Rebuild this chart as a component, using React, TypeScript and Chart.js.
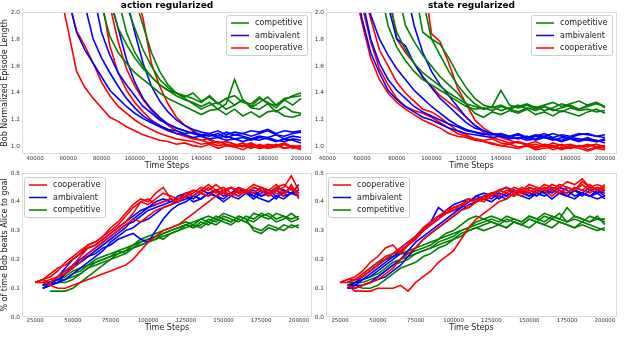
import React, { useEffect, useRef } from 'react';
import { Chart, registerables } from 'chart.js';
Chart.register(...registerables);

const FONT = '"DejaVu Sans", "Liberation Sans", sans-serif';

// ---------- data ----------
const topSteps = [55000, 60000, 65000, 70000, 75000, 80000, 85000, 90000, 95000, 100000,
  105000, 110000, 115000, 120000, 125000, 130000, 135000, 140000, 145000, 150000,
  155000, 160000, 165000, 170000, 175000, 180000, 185000, 190000, 195000, 200000];

const bottomSteps = [25000, 30000, 35000, 40000, 45000, 50000, 55000, 60000, 65000, 70000,
  75000, 80000, 85000, 90000, 95000, 100000, 105000, 110000, 115000, 120000,
  125000, 130000, 135000, 140000, 145000, 150000, 155000, 160000, 165000, 170000,
  175000, 180000, 185000, 190000, 195000, 200000];

const topXTicks = [40000, 60000, 80000, 100000, 120000, 140000, 160000, 180000, 200000];
const topYTicks = [1.0, 1.2, 1.4, 1.6, 1.8, 2.0];
const bottomXTicks = [25000, 50000, 75000, 100000, 125000, 150000, 175000, 200000];
const bottomYTicks = [0.0, 0.1, 0.2, 0.3, 0.4, 0.5];

const N = null;

// Bob normalized episode length, action regularized
const lenActionCompetitive = [
  [N,N,N,N,N,2.05,1.82,1.70,1.62,1.55, 1.50,1.45,1.40,1.36,1.33,1.30,1.27,1.24,1.27,1.28, 1.24,1.28,1.23,1.26,1.22,1.26,1.27,1.23,1.22,1.24],
  [N,N,N,N,N,N,2.10,1.88,1.76,1.66, 1.58,1.52,1.46,1.42,1.40,1.37,1.40,1.34,1.37,1.32, 1.36,1.38,1.33,1.32,1.37,1.32,1.31,1.36,1.37,1.38],
  [N,N,N,N,N,N,N,2.10,1.85,1.70, 1.60,1.52,1.46,1.42,1.38,1.35,1.33,1.30,1.33,1.28, 1.32,1.50,1.35,1.29,1.28,1.32,1.26,1.30,1.26,1.25],
  [N,N,N,N,N,N,N,N,2.05,1.88, 1.72,1.60,1.50,1.44,1.40,1.38,1.36,1.33,1.38,1.32, 1.36,1.31,1.35,1.30,1.36,1.33,1.29,1.35,1.31,1.36],
  [N,N,N,N,N,N,N,N,N,2.10, 1.90,1.70,1.56,1.46,1.40,1.36,1.32,1.28,1.31,1.33, 1.28,1.31,1.35,1.29,1.33,1.37,1.31,1.35,1.38,1.40],
];
const lenActionAmbivalent = [
  [N,2.10,1.85,1.72,1.62,1.52,1.42,1.36,1.30,1.25, 1.21,1.18,1.15,1.12,1.10,1.09,1.07,1.08,1.06,1.07, 1.05,1.06,1.04,1.06,1.05,1.07,1.05,1.04,1.06,1.05],
  [N,N,N,2.05,1.80,1.66,1.55,1.45,1.36,1.29, 1.23,1.19,1.16,1.13,1.12,1.10,1.11,1.09,1.10,1.08, 1.11,1.09,1.10,1.08,1.10,1.12,1.09,1.08,1.10,1.11],
  [N,N,N,N,2.15,1.85,1.68,1.55,1.46,1.38, 1.30,1.25,1.20,1.17,1.14,1.12,1.10,1.09,1.08,1.10, 1.07,1.09,1.08,1.06,1.08,1.07,1.09,1.06,1.08,1.07],
  [N,N,N,N,N,N,2.10,1.88,1.65,1.48, 1.36,1.28,1.22,1.17,1.14,1.12,1.10,1.08,1.09,1.07, 1.08,1.06,1.07,1.05,1.07,1.06,1.04,1.06,1.05,1.03],
  [N,N,N,N,N,N,N,N,2.10,1.85, 1.62,1.45,1.34,1.26,1.20,1.16,1.13,1.11,1.10,1.12, 1.09,1.11,1.10,1.12,1.11,1.13,1.10,1.12,1.11,1.12],
];
const lenActionCooperative = [
  [2.15,1.86,1.56,1.44,1.36,1.29,1.22,1.19,1.15,1.12, 1.09,1.07,1.05,1.04,1.02,1.03,1.01,1.00,1.02,0.99, 1.01,1.00,0.98,1.01,0.99,1.00,1.02,0.99,1.00,0.98],
  [N,2.10,1.86,1.75,1.62,1.48,1.38,1.30,1.25,1.20, 1.16,1.13,1.10,1.08,1.06,1.05,1.04,1.02,1.03,1.01, 1.02,1.00,1.01,0.99,1.02,1.00,1.01,1.03,1.00,1.01],
  [N,N,N,N,N,2.10,1.75,1.55,1.42,1.33, 1.26,1.20,1.16,1.13,1.10,1.08,1.06,1.05,1.03,1.04, 1.02,1.01,1.03,1.00,1.01,0.99,1.00,1.02,1.00,0.99],
  [N,N,N,N,N,N,2.05,1.78,1.58,1.45, 1.35,1.27,1.21,1.16,1.12,1.09,1.07,1.05,1.06,1.03, 1.04,1.02,1.01,1.03,1.00,1.02,1.01,0.99,1.01,1.00],
  [N,N,N,N,N,N,N,N,N,2.20, 1.95,1.62,1.45,1.32,1.22,1.16,1.12,1.08,1.05,1.03, 1.04,1.02,1.00,1.02,0.99,1.01,1.00,1.02,0.99,1.01],
];

// Bob normalized episode length, state regularized
const lenStateCompetitive = [
  [N,N,N,2.20,1.90,1.74,1.64,1.56,1.50,1.46, 1.42,1.38,1.34,1.30,1.28,1.29,1.27,1.30,1.28,1.26, 1.29,1.27,1.30,1.28,1.26,1.29,1.27,1.28,1.26,1.27],
  [N,N,N,N,2.10,1.85,1.72,1.62,1.55,1.50, 1.45,1.40,1.36,1.32,1.30,1.28,1.30,1.42,1.31,1.29, 1.31,1.28,1.30,1.27,1.29,1.31,1.28,1.30,1.32,1.30],
  [N,N,N,N,N,2.20,1.90,1.78,1.68,1.60, 1.52,1.46,1.40,1.32,1.25,1.22,1.26,1.24,1.27,1.25, 1.28,1.24,1.26,1.23,1.27,1.25,1.23,1.26,1.28,1.25],
  [N,N,N,N,N,N,N,2.20,1.85,1.80, 1.76,1.66,1.54,1.44,1.36,1.31,1.29,1.31,1.28,1.30, 1.32,1.29,1.31,1.33,1.30,1.32,1.34,1.31,1.33,1.30],
  [N,N,N,N,N,N,N,N,2.10,1.80, 1.68,1.56,1.46,1.38,1.32,1.28,1.30,1.27,1.29,1.31, 1.28,1.30,1.27,1.29,1.32,1.30,1.28,1.31,1.33,1.29],
];
const lenStateAmbivalent = [
  [2.30,1.95,1.70,1.55,1.42,1.35,1.30,1.26,1.22,1.20, 1.17,1.14,1.12,1.10,1.09,1.08,1.07,1.08,1.06,1.07, 1.05,1.06,1.08,1.06,1.05,1.07,1.06,1.05,1.04,1.06],
  [N,2.10,1.80,1.62,1.50,1.42,1.36,1.30,1.26,1.23, 1.20,1.17,1.15,1.12,1.11,1.10,1.09,1.10,1.08,1.09, 1.07,1.08,1.10,1.07,1.09,1.08,1.10,1.09,1.08,1.09],
  [N,2.30,1.98,1.80,1.68,1.58,1.50,1.42,1.36,1.30, 1.25,1.20,1.16,1.13,1.11,1.09,1.10,1.08,1.07,1.09, 1.06,1.08,1.07,1.05,1.07,1.06,1.04,1.06,1.05,1.03],
  [N,N,N,N,2.05,1.80,1.75,1.62,1.52,1.44, 1.36,1.30,1.24,1.18,1.14,1.12,1.10,1.09,1.08,1.10, 1.07,1.09,1.08,1.10,1.08,1.07,1.09,1.10,1.08,1.07],
  [N,N,N,N,N,N,2.20,1.90,1.70,1.56, 1.46,1.38,1.30,1.22,1.16,1.12,1.10,1.08,1.07,1.06, 1.08,1.05,1.07,1.06,1.04,1.06,1.05,1.07,1.04,1.05],
];
const lenStateCooperative = [
  [2.20,1.92,1.66,1.50,1.40,1.33,1.28,1.24,1.20,1.17, 1.14,1.10,1.08,1.07,1.05,1.04,1.03,1.01,1.02,1.00, 1.01,0.99,1.01,0.98,1.00,0.99,1.01,0.98,1.00,0.99],
  [N,2.05,1.78,1.58,1.46,1.36,1.30,1.27,1.25,1.22, 1.18,1.14,1.10,1.08,1.06,1.05,1.06,1.03,1.02,1.04, 1.01,1.02,1.00,1.03,1.01,1.02,1.00,1.01,1.02,1.00],
  [N,2.20,1.95,1.72,1.60,1.48,1.40,1.34,1.28,1.26, 1.22,1.17,1.12,1.09,1.06,1.04,1.02,1.01,1.00,0.99, 1.01,0.98,0.99,1.00,0.98,1.00,0.99,0.97,0.99,0.98],
  [N,N,N,N,2.20,1.80,1.70,1.62,1.52,1.45, 1.38,1.33,1.28,1.22,1.16,1.11,1.07,1.05,1.03,1.04, 1.02,1.00,1.02,1.01,0.99,1.01,1.00,1.02,1.00,1.01],
  [N,N,N,N,N,N,N,N,2.30,1.84, 1.78,1.62,1.44,1.32,1.20,1.14,1.10,1.07,1.05,1.03, 1.02,1.04,1.01,1.00,1.02,0.99,1.01,1.00,1.02,1.00],
];

// % of time Bob beats Alice to goal, action regularized
const winActionCooperative = [
  [0.12,0.13,0.14,0.16,0.19,0.21,0.23,0.25,0.26,0.28, 0.31,0.33,0.36,0.39,0.41,0.40,0.43,0.45,0.41,0.40, 0.42,0.43,0.45,0.44,0.46,0.44,0.45,0.43,0.44,0.46, 0.45,0.43,0.44,0.45,0.49,0.44],
  [0.12,0.13,0.12,0.14,0.16,0.18,0.21,0.24,0.25,0.27, 0.29,0.31,0.33,0.36,0.40,0.41,0.39,0.40,0.41,0.40, 0.42,0.44,0.43,0.45,0.43,0.44,0.42,0.45,0.44,0.43, 0.45,0.44,0.46,0.43,0.45,0.42],
  [0.12,0.12,0.13,0.14,0.15,0.17,0.19,0.22,0.24,0.26, 0.28,0.30,0.32,0.34,0.33,0.35,0.37,0.38,0.39,0.41, 0.43,0.42,0.44,0.46,0.44,0.43,0.45,0.44,0.43,0.45, 0.44,0.42,0.45,0.46,0.44,0.45],
  [N,0.12,0.11,0.10,0.10,0.11,0.12,0.13,0.14,0.15, 0.16,0.17,0.18,0.20,0.23,0.26,0.28,0.30,0.31,0.32, 0.34,0.36,0.38,0.40,0.42,0.43,0.42,0.44,0.43,0.45, 0.44,0.42,0.44,0.43,0.45,0.43],
  [0.12,0.13,0.15,0.17,0.18,0.20,0.22,0.25,0.26,0.28, 0.30,0.32,0.35,0.38,0.40,0.39,0.41,0.43,0.42,0.41, 0.43,0.44,0.43,0.42,0.44,0.45,0.43,0.42,0.44,0.43, 0.45,0.44,0.43,0.42,0.46,0.41],
];
const winActionAmbivalent = [
  [N,0.10,0.11,0.14,0.17,0.20,0.22,0.24,0.25,0.27, 0.29,0.31,0.33,0.35,0.37,0.38,0.39,0.40,0.41,0.40, 0.42,0.41,0.43,0.42,0.44,0.43,0.42,0.44,0.43,0.41, 0.43,0.44,0.42,0.43,0.45,0.43],
  [N,0.10,0.11,0.12,0.15,0.18,0.20,0.22,0.24,0.26, 0.28,0.30,0.32,0.33,0.35,0.37,0.38,0.39,0.40,0.41, 0.42,0.40,0.41,0.43,0.42,0.41,0.43,0.42,0.44,0.43, 0.42,0.43,0.41,0.44,0.43,0.42],
  [N,0.11,0.12,0.13,0.15,0.17,0.19,0.21,0.23,0.25, 0.27,0.29,0.31,0.34,0.36,0.38,0.40,0.41,0.40,0.42, 0.43,0.42,0.44,0.43,0.42,0.44,0.45,0.43,0.44,0.42, 0.44,0.43,0.45,0.44,0.43,0.46],
  [N,0.10,0.11,0.12,0.13,0.15,0.17,0.19,0.21,0.23, 0.26,0.28,0.30,0.31,0.33,0.34,0.36,0.38,0.39,0.40, 0.41,0.42,0.41,0.43,0.42,0.40,0.42,0.41,0.43,0.42, 0.41,0.40,0.42,0.41,0.43,0.42],
  [N,0.11,0.12,0.14,0.16,0.18,0.19,0.21,0.22,0.24, 0.25,0.27,0.28,0.29,0.27,0.26,0.30,0.34,0.37,0.39, 0.40,0.42,0.41,0.43,0.44,0.42,0.43,0.45,0.43,0.44, 0.42,0.43,0.44,0.42,0.43,0.44],
];
const winActionCompetitive = [
  [N,0.12,0.12,0.13,0.14,0.16,0.17,0.18,0.19,0.20, 0.21,0.22,0.23,0.24,0.25,0.26,0.27,0.28,0.29,0.30, 0.31,0.32,0.31,0.33,0.32,0.34,0.33,0.35,0.34,0.33, 0.35,0.34,0.36,0.35,0.34,0.35],
  [N,0.11,0.12,0.12,0.13,0.15,0.16,0.18,0.20,0.21, 0.22,0.23,0.22,0.24,0.26,0.27,0.28,0.27,0.29,0.30, 0.32,0.31,0.32,0.34,0.33,0.35,0.34,0.33,0.35,0.34, 0.36,0.35,0.33,0.34,0.36,0.34],
  [N,N,0.09,0.09,0.09,0.10,0.12,0.14,0.16,0.18, 0.20,0.21,0.22,0.24,0.25,0.26,0.27,0.29,0.30,0.31, 0.32,0.31,0.33,0.32,0.34,0.33,0.32,0.34,0.33,0.31, 0.30,0.32,0.31,0.30,0.32,0.31],
  [N,0.11,0.11,0.12,0.12,0.13,0.15,0.17,0.18,0.19, 0.20,0.22,0.23,0.25,0.27,0.28,0.29,0.30,0.31,0.32, 0.33,0.32,0.34,0.35,0.34,0.36,0.35,0.34,0.33,0.36, 0.35,0.36,0.34,0.35,0.33,0.34],
  [N,0.12,0.12,0.13,0.13,0.14,0.15,0.17,0.19,0.20, 0.21,0.23,0.24,0.25,0.26,0.27,0.28,0.29,0.30,0.31, 0.32,0.33,0.34,0.33,0.35,0.34,0.33,0.35,0.34,0.30, 0.29,0.31,0.30,0.32,0.31,0.32],
];

// % of time Bob beats Alice to goal, state regularized
const winStateCooperative = [
  [0.12,0.13,0.14,0.16,0.19,0.21,0.24,0.25,0.22,0.25, 0.28,0.31,0.33,0.35,0.37,0.38,0.39,0.41,0.40,0.42, 0.43,0.44,0.43,0.45,0.44,0.46,0.45,0.44,0.46,0.45, 0.47,0.46,0.48,0.45,0.46,0.45],
  [0.12,0.13,0.13,0.15,0.17,0.19,0.21,0.22,0.24,0.26, 0.28,0.30,0.32,0.34,0.36,0.38,0.39,0.40,0.41,0.40, 0.42,0.44,0.45,0.44,0.43,0.45,0.44,0.46,0.45,0.44, 0.43,0.45,0.44,0.46,0.44,0.45],
  [N,0.11,0.09,0.09,0.09,0.10,0.10,0.10,0.11,0.09, 0.12,0.14,0.16,0.19,0.21,0.23,0.27,0.31,0.34,0.36, 0.38,0.40,0.41,0.43,0.42,0.44,0.43,0.45,0.44,0.43, 0.45,0.44,0.46,0.44,0.45,0.43],
  [0.12,0.12,0.13,0.14,0.16,0.18,0.20,0.22,0.23,0.25, 0.27,0.30,0.33,0.34,0.36,0.37,0.39,0.38,0.40,0.41, 0.43,0.42,0.44,0.43,0.45,0.44,0.43,0.45,0.44,0.46, 0.45,0.44,0.47,0.45,0.44,0.46],
  [N,0.11,0.10,0.11,0.12,0.13,0.15,0.17,0.20,0.22, 0.24,0.27,0.29,0.31,0.33,0.35,0.37,0.38,0.40,0.41, 0.42,0.44,0.43,0.42,0.44,0.43,0.45,0.44,0.42,0.44, 0.43,0.45,0.44,0.43,0.45,0.44],
];
const winStateAmbivalent = [
  [N,0.10,0.11,0.13,0.15,0.17,0.19,0.21,0.23,0.25, 0.28,0.30,0.33,0.38,0.36,0.37,0.38,0.40,0.41,0.42, 0.41,0.43,0.42,0.44,0.43,0.45,0.44,0.43,0.45,0.44, 0.42,0.44,0.43,0.45,0.44,0.43],
  [N,0.10,0.10,0.11,0.12,0.14,0.16,0.18,0.20,0.23, 0.26,0.28,0.30,0.32,0.34,0.36,0.38,0.40,0.42,0.41, 0.42,0.43,0.42,0.44,0.43,0.42,0.44,0.43,0.41,0.43, 0.42,0.44,0.43,0.42,0.44,0.42],
  [N,0.11,0.12,0.13,0.14,0.16,0.18,0.20,0.22,0.25, 0.27,0.30,0.32,0.34,0.37,0.39,0.40,0.41,0.40,0.42, 0.43,0.41,0.43,0.42,0.44,0.43,0.42,0.44,0.43,0.45, 0.44,0.42,0.43,0.42,0.43,0.41],
  [N,0.10,0.11,0.11,0.12,0.13,0.14,0.16,0.18,0.21, 0.24,0.27,0.29,0.31,0.33,0.35,0.37,0.39,0.40,0.41, 0.40,0.42,0.41,0.43,0.42,0.41,0.43,0.42,0.44,0.43, 0.42,0.41,0.43,0.42,0.41,0.42],
  [N,0.10,0.12,0.14,0.16,0.18,0.20,0.22,0.24,0.26, 0.28,0.31,0.33,0.35,0.36,0.38,0.39,0.40,0.42,0.43, 0.42,0.44,0.45,0.43,0.44,0.42,0.43,0.45,0.44,0.43, 0.45,0.44,0.42,0.44,0.43,0.44],
];
const winStateCompetitive = [
  [N,0.12,0.13,0.15,0.17,0.19,0.20,0.21,0.22,0.22, 0.23,0.24,0.25,0.27,0.28,0.29,0.30,0.31,0.33,0.34, 0.35,0.34,0.33,0.34,0.33,0.35,0.34,0.33,0.35,0.34, 0.33,0.35,0.34,0.33,0.34,0.33],
  [N,0.12,0.13,0.14,0.16,0.18,0.20,0.21,0.22,0.23, 0.24,0.25,0.26,0.27,0.29,0.30,0.32,0.34,0.35,0.34, 0.33,0.32,0.34,0.33,0.32,0.34,0.33,0.35,0.34,0.36, 0.33,0.34,0.33,0.35,0.34,0.34],
  [N,0.11,0.11,0.10,0.10,0.11,0.13,0.15,0.17,0.18, 0.19,0.21,0.22,0.24,0.25,0.27,0.28,0.30,0.31,0.30, 0.31,0.32,0.31,0.33,0.32,0.31,0.33,0.32,0.34,0.33, 0.32,0.31,0.33,0.32,0.31,0.30],
  [N,0.12,0.12,0.13,0.14,0.15,0.17,0.19,0.20,0.21, 0.22,0.23,0.24,0.26,0.27,0.28,0.30,0.31,0.32,0.33, 0.34,0.33,0.35,0.34,0.33,0.35,0.34,0.36,0.35,0.34, 0.38,0.35,0.34,0.33,0.35,0.32],
  [N,0.11,0.12,0.12,0.13,0.14,0.16,0.18,0.19,0.20, 0.22,0.23,0.24,0.25,0.26,0.27,0.29,0.30,0.31,0.32, 0.33,0.32,0.31,0.33,0.32,0.34,0.33,0.32,0.31,0.33, 0.32,0.31,0.32,0.31,0.30,0.31],
];

// ---------- styling ----------
const COLORS: Record<string, string> = {
  competitive: '#008000',
  ambivalent: '#0000ff',
  cooperative: '#ff0000',
};

type Group = { label: string; runs: (number | null)[][] };

function buildDatasets(steps: number[], groups: Group[]) {
  const ds: any[] = [];
  groups.forEach((g) => {
    g.runs.forEach((run) => {
      ds.push({
        label: g.label,
        data: steps.map((x, i) => ({ x, y: run[i] })),
        borderColor: COLORS[g.label],
        backgroundColor: COLORS[g.label],
        borderWidth: 1.6,
        borderJoinStyle: 'miter',
        pointRadius: 0,
        fill: false,
        tension: 0,
        spanGaps: false,
      });
    });
  });
  return ds;
}

const framePlugin = {
  id: 'frame',
  afterDatasetsDraw(chart: any) {
    const { ctx, chartArea: a } = chart;
    ctx.save();
    ctx.strokeStyle = '#dcdcdc';
    ctx.lineWidth = 1;
    ctx.strokeRect(Math.round(a.left) + 0.5, Math.round(a.top) + 0.5,
      Math.round(a.right - a.left) - 1, Math.round(a.bottom - a.top) - 1);
    ctx.restore();
  },
};

function makeLegendPlugin(labels: string[], corner: 'left' | 'right') {
  return {
    id: 'boxLegend',
    afterDraw(chart: any) {
      const { ctx, chartArea: a } = chart;
      const w = 81, h = 40;
      const x0 = corner === 'right' ? Math.round(a.right) - 5 - w : Math.round(a.left) + 2;
      const y0 = corner === 'right' ? Math.round(a.top) + 3 : Math.round(a.top) + 4;
      ctx.save();
      ctx.beginPath();
      if (ctx.roundRect) ctx.roundRect(x0 + 0.5, y0 + 0.5, w, h, 2);
      else ctx.rect(x0 + 0.5, y0 + 0.5, w, h);
      ctx.fillStyle = 'rgba(255,255,255,0.8)';
      ctx.fill();
      ctx.strokeStyle = '#cccccc';
      ctx.lineWidth = 1;
      ctx.stroke();
      ctx.font = `8px ${FONT}`;
      ctx.textBaseline = 'middle';
      ctx.textAlign = 'left';
      labels.forEach((lab, i) => {
        const y = y0 + 8 + i * 12.5;
        ctx.strokeStyle = COLORS[lab];
        ctx.lineWidth = 1.5;
        ctx.beginPath();
        ctx.moveTo(x0 + 5, y);
        ctx.lineTo(x0 + 23, y);
        ctx.stroke();
        ctx.fillStyle = '#222';
        ctx.fillText(lab, x0 + 29, y);
      });
      ctx.restore();
    },
  };
}

type Spec = {
  left: number; top: number; width: number; height: number;
  yAxisW: number; xAxisH: number; padRight: number; padTop: number; padBottom: number;
  title?: string; yTitle?: string;
  xMin: number; xMax: number; yMin: number; yMax: number;
  xTicks: number[]; yTicks: number[];
  steps: number[]; groups: Group[]; legendCorner: 'left' | 'right';
  xTickPad: number; xTitlePadBottom: number;
};

function buildConfig(s: Spec): any {
  return {
    type: 'line',
    data: { datasets: buildDatasets(s.steps, s.groups) },
    options: {
      animation: false,
      responsive: false,
      maintainAspectRatio: false,
      events: [],
      layout: { padding: { left: 0, right: s.padRight, top: s.padTop, bottom: s.padBottom } },
      plugins: {
        legend: { display: false },
        tooltip: { enabled: false },
        title: s.title
          ? {
              display: true,
              text: s.title,
              fullSize: false,
              color: '#000',
              font: { family: FONT, size: 9, weight: 'bold', lineHeight: 1.2 },
              padding: { top: 0, bottom: 1.2 },
            }
          : { display: false },
      },
      scales: {
        x: {
          type: 'linear',
          min: s.xMin,
          max: s.xMax,
          grid: { display: false, drawTicks: false, tickLength: 0 },
          border: { display: false },
          ticks: {
            autoSkip: false,
            maxRotation: 0,
            minRotation: 0,
            padding: s.xTickPad,
            color: '#333',
            font: { family: FONT, size: 5.4 },
            callback: (v: any) => String(v),
          },
          afterBuildTicks: (sc: any) => { sc.ticks = s.xTicks.map((v) => ({ value: v })); },
          afterFit: (sc: any) => { sc.height = s.xAxisH; },
          title: {
            display: true,
            text: 'Time Steps',
            color: '#222',
            font: { family: FONT, size: 8, lineHeight: 1.2 },
            padding: { top: 0, bottom: s.xTitlePadBottom },
          },
        },
        y: {
          type: 'linear',
          min: s.yMin,
          max: s.yMax,
          grid: { display: false, drawTicks: false, tickLength: 0 },
          border: { display: false },
          ticks: {
            autoSkip: false,
            padding: 2,
            color: '#333',
            font: { family: FONT, size: 5.8 },
            callback: (v: any) => Number(v).toFixed(1),
          },
          afterBuildTicks: (sc: any) => { sc.ticks = s.yTicks.map((v) => ({ value: v })); },
          afterFit: (sc: any) => { sc.width = s.yAxisW; },
          title: s.yTitle
            ? {
                display: true,
                text: s.yTitle,
                color: '#222',
                font: { family: FONT, size: 8, lineHeight: 1.2 },
                padding: { top: 0, bottom: 0 },
              }
            : { display: false },
        },
      },
    },
    plugins: [framePlugin, makeLegendPlugin(s.groups.map((g) => g.label), s.legendCorner)],
  };
}

const specs: Spec[] = [
  {
    left: 0, top: 0, width: 320, height: 172,
    yAxisW: 22, xAxisH: 18, padRight: 8, padTop: 0, padBottom: 0,
    title: 'action regularized', yTitle: 'Bob Normalized Episode Length',
    xMin: 32180, xMax: 206600, yMin: 0.948, yMax: 2.0,
    xTicks: topXTicks, yTicks: topYTicks, steps: topSteps,
    groups: [
      { label: 'competitive', runs: lenActionCompetitive },
      { label: 'ambivalent', runs: lenActionAmbivalent },
      { label: 'cooperative', runs: lenActionCooperative },
    ],
    legendCorner: 'right', xTickPad: 1, xTitlePadBottom: 1.2,
  },
  {
    left: 300, top: 0, width: 340, height: 172,
    yAxisW: 26, xAxisH: 18, padRight: 23, padTop: 0, padBottom: 0,
    title: 'state regularized',
    xMin: 39250, xMax: 206900, yMin: 0.948, yMax: 2.0,
    xTicks: topXTicks, yTicks: topYTicks, steps: topSteps,
    groups: [
      { label: 'competitive', runs: lenStateCompetitive },
      { label: 'ambivalent', runs: lenStateAmbivalent },
      { label: 'cooperative', runs: lenStateCooperative },
    ],
    legendCorner: 'right', xTickPad: 1, xTitlePadBottom: 1.2,
  },
  {
    left: 0, top: 160, width: 320, height: 180,
    yAxisW: 22, xAxisH: 20, padRight: 8, padTop: 13, padBottom: 3,
    yTitle: '% of time Bob beats Alice to goal',
    xMin: 16250, xMax: 208750, yMin: 0, yMax: 0.5,
    xTicks: bottomXTicks, yTicks: bottomYTicks, steps: bottomSteps,
    groups: [
      { label: 'cooperative', runs: winActionCooperative },
      { label: 'ambivalent', runs: winActionAmbivalent },
      { label: 'competitive', runs: winActionCompetitive },
    ],
    legendCorner: 'left', xTickPad: 0.5, xTitlePadBottom: 4.2,
  },
  {
    left: 300, top: 160, width: 340, height: 180,
    yAxisW: 26, xAxisH: 20, padRight: 23, padTop: 13, padBottom: 3,
    xMin: 15750, xMax: 208000, yMin: 0, yMax: 0.5,
    xTicks: bottomXTicks, yTicks: bottomYTicks, steps: bottomSteps,
    groups: [
      { label: 'cooperative', runs: winStateCooperative },
      { label: 'ambivalent', runs: winStateAmbivalent },
      { label: 'competitive', runs: winStateCompetitive },
    ],
    legendCorner: 'left', xTickPad: 0.5, xTitlePadBottom: 4.2,
  },
];

function Panel({ spec }: { spec: Spec }) {
  const ref = useRef<HTMLCanvasElement | null>(null);
  useEffect(() => {
    if (!ref.current) return;
    const chart = new Chart(ref.current, buildConfig(spec));
    return () => chart.destroy();
  }, [spec]);
  return (
    <canvas
      ref={ref}
      width={spec.width}
      height={spec.height}
      style={{ position: 'absolute', left: spec.left, top: spec.top, width: spec.width, height: spec.height }}
    />
  );
}

export default function App() {
  return (
    <div style={{ position: 'absolute', left: 0, top: 0, width: 640, height: 354, background: '#fff', overflow: 'hidden' }}>
      {specs.map((s, i) => (
        <Panel key={i} spec={s} />
      ))}
    </div>
  );
}
